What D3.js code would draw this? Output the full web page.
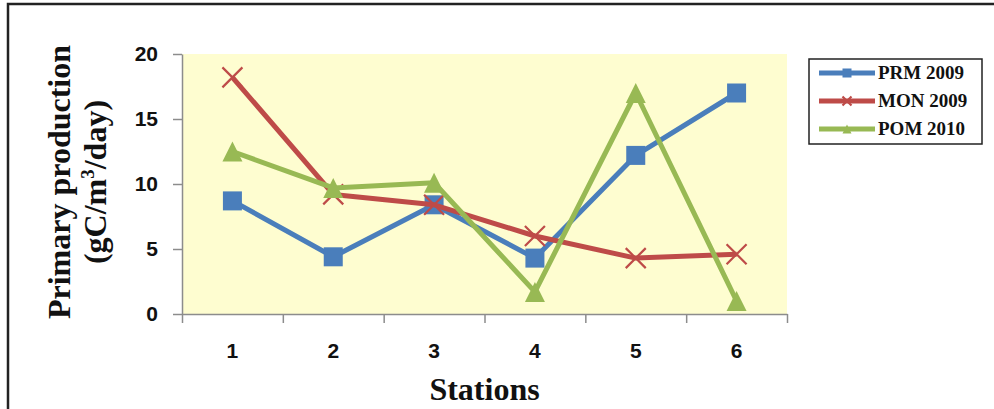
<!DOCTYPE html>
<html>
<head>
<meta charset="utf-8">
<script src="https://cdn.jsdelivr.net/npm/d3@7"></script>
<style>
  body { margin: 0; background: #fff; }
  svg { display: block; }
</style>
</head>
<body>
<div id="chart"></div>
<script>
// chart data
let stations = ['1', '2', '3', '4', '5', '6'];
let seriesNames = ['PRM 2009', 'MON 2009', 'POM 2010'];
let prm2009 = [8.7, 4.4, 8.4, 4.3, 12.2, 17.0];
let mon2009 = [18.2, 9.2, 8.4, 6.0, 4.3, 4.6];
let pom2010 = [12.5, 9.7, 10.1, 1.7, 17.0, 1.0];
let yTicks = [0, 5, 10, 15, 20];

let colors = ['#4A7EBB', '#BE4B48', '#98B954'];
let shapes = ['square', 'cross', 'triangle'];

let width = 994, height = 409;
let plot = {left: 182, right: 787, top: 54, bottom: 314};

let svg = d3.select('#chart').append('svg')
  .attr('width', width)
  .attr('height', height);

// outer frame (right / bottom edges run off the picture)
svg.append('rect')
  .attr('x', 8).attr('y', 4)
  .attr('width', 1000).attr('height', 500)
  .attr('fill', 'none')
  .attr('stroke', '#222')
  .attr('stroke-width', 2.5);

// plot background
svg.append('rect')
  .attr('x', plot.left).attr('y', plot.top)
  .attr('width', plot.right - plot.left)
  .attr('height', plot.bottom - plot.top)
  .attr('fill', '#FEFDD0');

let x = d3.scaleBand().domain(stations).range([plot.left, plot.right]);
let xEdge = d3.scaleLinear().domain([0, stations.length]).range([plot.left, plot.right]);
let y = d3.scaleLinear().domain([0, 20]).range([plot.bottom, plot.top]);
let cx = s => x(s) + x.bandwidth() / 2;

let sans = '"Liberation Sans", Arial, sans-serif';
let serif = '"Liberation Serif", "Times New Roman", serif';

// y axis
let yAxis = svg.append('g')
  .attr('transform', `translate(${plot.left},0)`)
  .call(d3.axisLeft(y).tickValues(yTicks).tickSize(9).tickSizeOuter(0).tickPadding(15));
yAxis.selectAll('path, line').attr('stroke', '#8c8c8c').attr('stroke-width', 1.5);
yAxis.selectAll('text')
  .attr('font-family', sans)
  .attr('font-weight', 'bold')
  .attr('font-size', 21)
  .attr('fill', '#111');

// x axis: tick marks at category edges, labels at centres
let xTickAxis = svg.append('g')
  .attr('transform', `translate(0,${plot.bottom})`)
  .call(d3.axisBottom(xEdge).tickValues(d3.range(0, stations.length + 1)).tickSize(9).tickSizeOuter(0).tickFormat(''));
xTickAxis.selectAll('path, line').attr('stroke', '#8c8c8c').attr('stroke-width', 1.5);

let xLabelAxis = svg.append('g')
  .attr('transform', `translate(0,${plot.bottom})`)
  .call(d3.axisBottom(x).tickSize(0).tickPadding(29));
xLabelAxis.select('.domain').remove();
xLabelAxis.selectAll('text')
  .attr('font-family', sans)
  .attr('font-weight', 'bold')
  .attr('font-size', 21)
  .attr('fill', '#111');

// axis titles
svg.append('text')
  .attr('x', (plot.left + plot.right) / 2)
  .attr('y', 400)
  .attr('text-anchor', 'middle')
  .attr('font-family', serif)
  .attr('font-weight', 'bold')
  .attr('font-size', 32)
  .attr('fill', '#111')
  .text('Stations');

svg.append('text')
  .attr('transform', 'translate(70,182) rotate(-90)')
  .attr('text-anchor', 'middle')
  .attr('font-family', serif)
  .attr('font-weight', 'bold')
  .attr('font-size', 32)
  .attr('fill', '#111')
  .text('Primary production');

let unit = svg.append('text')
  .attr('transform', 'translate(106,182) rotate(-90)')
  .attr('text-anchor', 'middle')
  .attr('font-family', serif)
  .attr('font-weight', 'bold')
  .attr('font-size', 32)
  .attr('fill', '#111');
unit.append('tspan').text('(gC/m');
unit.append('tspan').attr('font-size', 19).attr('dy', -12).text('3');
unit.append('tspan').attr('dy', 12).text('/day)');

// markers
function drawMarker(g, shape, color, size) {
  if (shape === 'square') {
    g.append('rect')
      .attr('x', -size / 2).attr('y', -size / 2)
      .attr('width', size).attr('height', size)
      .attr('fill', color);
  } else if (shape === 'triangle') {
    let h = size;
    g.append('path')
      .attr('d', `M0,${-h / 2}L${h / 2},${h / 2}L${-h / 2},${h / 2}Z`)
      .attr('fill', color);
  } else {
    let r = size / 2;
    g.append('path')
      .attr('d', `M${-r},${-r}L${r},${r}M${-r},${r}L${r},${-r}`)
      .attr('stroke', color)
      .attr('stroke-width', 2.2)
      .attr('fill', 'none');
  }
}

let allSeries = [prm2009, mon2009, pom2010];
let line = d3.line().x((d, i) => cx(stations[i])).y(d => y(d));

allSeries.forEach(function (vals, k) {
  let g = svg.append('g');
  g.append('path')
    .datum(vals)
    .attr('d', line)
    .attr('fill', 'none')
    .attr('stroke', colors[k])
    .attr('stroke-width', 5)
    .attr('stroke-linejoin', 'round');
  g.selectAll('g.mk')
    .data(vals)
    .enter().append('g')
    .attr('class', 'mk')
    .attr('transform', (d, i) => `translate(${cx(stations[i])},${y(d)})`)
    .each(function () { drawMarker(d3.select(this), shapes[k], colors[k], k === 0 ? 19 : 20); });
});

// legend
let legend = svg.append('g');
legend.append('rect')
  .attr('x', 809).attr('y', 59)
  .attr('width', 173).attr('height', 85)
  .attr('fill', '#fff')
  .attr('stroke', '#222')
  .attr('stroke-width', 1.5);

let legY = d3.scalePoint().domain(seriesNames).range([73, 129]);
seriesNames.forEach(function (name, k) {
  let ly = legY(name);
  legend.append('line')
    .attr('x1', 819).attr('x2', 875)
    .attr('y1', ly).attr('y2', ly)
    .attr('stroke', colors[k])
    .attr('stroke-width', 5);
  let mg = legend.append('g').attr('transform', `translate(847,${ly})`);
  drawMarker(mg, shapes[k], colors[k], 9);
  legend.append('text')
    .attr('x', 878)
    .attr('y', ly + 6)
    .attr('font-family', serif)
    .attr('font-weight', 'bold')
    .attr('font-size', 19)
    .attr('fill', '#111')
    .text(name);
});
</script>
</body>
</html>
